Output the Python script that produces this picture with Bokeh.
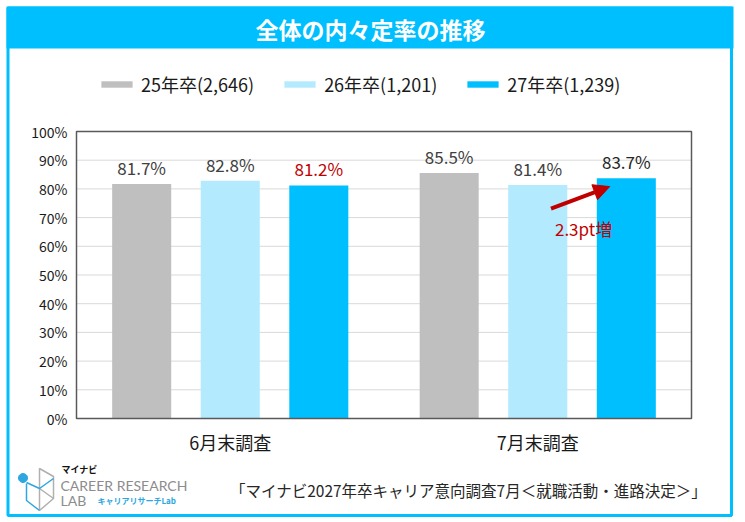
import math
from bokeh.plotting import figure
from bokeh.models import (Range1d, ColumnDataSource, LabelSet, Label, Arrow,
                          NormalHead, BoxAnnotation, PolyAnnotation, Legend, LegendItem,
                          FixedTicker, PrintfTickFormatter)
from bokeh.core.properties import value
from bokeh.embed import file_html
from bokeh.resources import INLINE

# ---------------- data ----------------
categories = ["6月末調査", "7月末調査"]
series_names = ["25年卒(2,646)", "26年卒(1,201)", "27年卒(1,239)"]
values_25 = [81.7, 85.5]
values_26 = [82.8, 81.4]
values_27 = [81.2, 83.7]
y_ticks = [0, 10, 20, 30, 40, 50, 60, 70, 80, 90, 100]
title_text = "全体の内々定率の推移"
note_text = "2.3pt増"
source_text = "「マイナビ2027年卒キャリア意向調査7月＜就職活動・進路決定＞」"

# ---------------- layout / style ----------------
FONT = "Noto Sans CJK JP"
colors = ["#BFBFBF", "#B3EAFD", "#00BFFF"]
RED = "#C00000"
BLUE = "#00BFFF"
W, H = 740, 518
PL, PR, PT, PB = 76, 691, 131, 418          # plot-area box in canvas pixels
PXU = (PR - PL) / len(categories)            # pixels per category
PXP = (PB - PT) / 100.0                      # pixels per percent


def dx(px):
    return (px - PL) / PXU


def dy(py):
    return (PB - py) / PXP


p = figure(width=W, height=H,
           x_range=Range1d(dx(0), dx(W)), y_range=Range1d(dy(H), dy(0)),
           output_backend="svg", toolbar_location=None, min_border=0)
p.background_fill_color = "white"
p.border_fill_color = "white"
p.outline_line_color = None

# axes fixed at the plot-area edges
p.yaxis.fixed_location = 0
p.xaxis.fixed_location = 0
p.yaxis.ticker = FixedTicker(ticks=y_ticks)
p.yaxis.formatter = PrintfTickFormatter(format="%d%%")
p.xaxis.ticker = FixedTicker(ticks=[i + 0.5 for i in range(len(categories))])
p.xaxis.major_label_overrides = {i + 0.5: c for i, c in enumerate(categories)}
for ax in (p.xaxis[0], p.yaxis[0]):
    ax.axis_line_color = None
    ax.major_tick_line_color = None
    ax.minor_tick_line_color = None
    ax.major_tick_out = 0
    ax.major_tick_in = 0
    ax.minor_tick_out = 0
    ax.major_label_text_font = FONT
    ax.major_label_text_color = "#1a1a1a"
p.yaxis.major_label_text_font_size = "14px"
p.yaxis.major_label_standoff = 9
p.xaxis.major_label_text_font_size = "18px"
p.xaxis.major_label_standoff = 10
p.xgrid.grid_line_color = None
p.ygrid.grid_line_color = None

# horizontal grid lines inside the plot area
p.segment(x0=0, x1=len(categories), y0=y_ticks, y1=y_ticks,
          line_color="#D9D9D9", line_width=1)

# bars
offsets = [-0.288, 0.0, 0.288]
series_values = [values_25, values_26, values_27]
xc = [i + 0.5 for i in range(len(categories))]
data = dict(xc=xc)
for i, vals in enumerate(series_values):
    data[f"x{i}"] = [c + offsets[i] for c in xc]
    data[f"v{i}"] = vals
    data[f"t{i}"] = [f"{v:.1f}%" for v in vals]
    if i == 2:
        data[f"c{i}"] = [RED, "#262626"]
    else:
        data[f"c{i}"] = ["#404040"] * len(vals)
source = ColumnDataSource(data)

renderers = []
for i in range(3):
    r = p.vbar(x=f"x{i}", top=f"v{i}", bottom=0, width=0.192,
               source=source, fill_color=colors[i], line_color=None)
    renderers.append(r)
    p.add_layout(LabelSet(x=f"x{i}", y=f"v{i}", text=f"t{i}", source=source, y_offset=4,
                          text_align="center", text_baseline="bottom",
                          text_font=value(FONT), text_font_size="17px",
                          text_color=f"c{i}"))

# plot-area frame
p.add_layout(BoxAnnotation(left=0, right=len(categories), bottom=0, top=100,
                           fill_alpha=0, line_color="#595959", line_width=1.5, line_alpha=1))

# legend above the plot area
legend = Legend(items=[LegendItem(label=series_names[i], renderers=[renderers[i]]) for i in range(3)],
                orientation="horizontal", location=(97, H - 97),
                glyph_width=39, glyph_height=8, label_standoff=5, spacing=26,
                padding=0, margin=0, border_line_color=None,
                background_fill_alpha=0,
                label_text_font=FONT, label_text_font_size="18px",
                label_text_color="#1a1a1a")
p.add_layout(legend)

# arrow + note (second category, between 26 and 27 bars)
c2 = xc[1]
p.add_layout(Arrow(x_start=c2 + 0.043, y_start=values_26[1] - 8.3,
                   x_end=c2 + 0.234, y_end=values_27[1] - 2.9,
                   line_color=RED, line_width=4,
                   end=NormalHead(size=16, fill_color=RED, line_color=RED)))
p.add_layout(Label(x=c2 + 0.149, y=66.2, text=note_text, text_align="center",
                   text_baseline="middle", text_font=FONT, text_font_size="17px",
                   text_color=RED))

# title bar and outer blue frame
p.add_layout(BoxAnnotation(left=dx(6), right=dx(733), top=dy(6), bottom=dy(48),
                           fill_color=BLUE, fill_alpha=1, line_color=None, level="underlay"))
p.add_layout(BoxAnnotation(left=dx(7.5), right=dx(731), top=dy(7.5), bottom=dy(515),
                           fill_alpha=0, line_color=BLUE, line_width=3, line_alpha=1))
p.add_layout(Label(x=dx(370), y=dy(28), text=title_text,
                   text_align="center", text_baseline="middle", text_font=FONT,
                   text_font_size="23px", text_font_style="bold", text_color="white"))

# source note
p.add_layout(Label(x=dx(468), y=dy(489), text=source_text,
                   text_align="center", text_baseline="middle", text_font=FONT,
                   text_font_size="15.5px", text_color="#262626"))

# logo (decoration)
def poly(pts, color, width=1.5, fill=None):
    p.add_layout(PolyAnnotation(xs=[dx(a) for a, b in pts], ys=[dy(b) for a, b in pts],
                                fill_color=fill or "white", fill_alpha=1 if fill else 0,
                                line_color=color, line_width=width, line_alpha=1))

GRAY_L = "#B0B0B0"
LBLUE = "#2EA7E0"
poly([(39, 468), (53, 476), (53, 498), (39, 510), (39, 468)], GRAY_L)
poly([(39, 488), (53, 498), (39, 488)], GRAY_L)
poly([(26, 482), (39, 488), (53, 478), (39, 488)], LBLUE)
poly([(26, 483), (26, 500), (39, 510), (26, 500)], LBLUE)
poly([(22.5 + 4.5 * math.cos(t * math.pi / 10), 477.5 + 4.5 * math.sin(t * math.pi / 10))
      for t in range(20)], LBLUE, width=1, fill=LBLUE)

p.add_layout(Label(x=dx(61), y=dy(469), text="マイナビ",
                   text_baseline="middle", text_font=FONT, text_font_size="9px",
                   text_font_style="bold", text_color="#111111"))
p.add_layout(Label(x=dx(60), y=dy(485), text="CAREER RESEARCH",
                   text_baseline="middle", text_font="Lato", text_font_size="14px",
                   text_color="#8C8C8C"))
p.add_layout(Label(x=dx(60), y=dy(500), text="LAB",
                   text_baseline="middle", text_font="Lato", text_font_size="14px",
                   text_color="#8C8C8C"))
p.add_layout(Label(x=dx(97), y=dy(500), text="キャリアリサーチLab",
                   text_baseline="middle", text_font=FONT, text_font_size="8px",
                   text_font_style="bold", text_color=LBLUE))

open("out.html", "w").write(file_html(p, INLINE))
